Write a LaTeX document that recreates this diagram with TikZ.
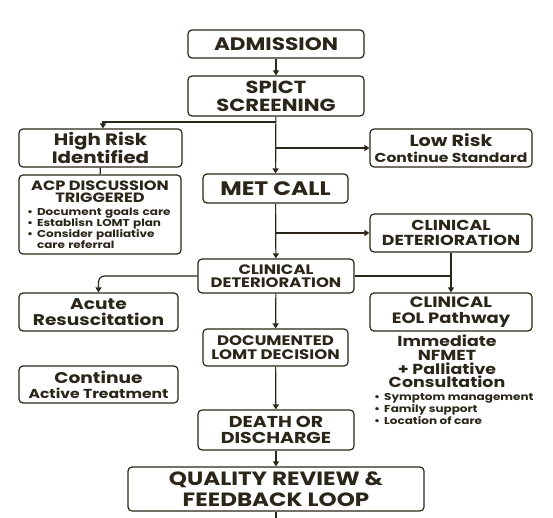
\documentclass[tikz,border=0pt]{standalone}
\usepackage{fontspec}
\setmainfont{Poppins}[BoldFeatures={FakeStretch=1.2}]
\usetikzlibrary{arrows.meta}
\definecolor{ink}{HTML}{2B2619}
\newcommand{\fs}[2]{\fontsize{#1}{#2}\selectfont}
\newcommand{\bul}{\textbullet\hspace{4pt}}

\begin{document}
\begin{tikzpicture}[x=1pt,y=-1pt,
    box/.style={draw=ink,line width=1.2pt,rounded corners=4pt,fill=white,
                text=ink,align=center,inner sep=0pt,font=\bfseries},
    arr/.style={draw=ink,line width=1.2pt,-{Triangle[length=5pt,width=6pt]}},
    lin/.style={draw=ink,line width=1.2pt}]
\useasboundingbox [fill=white] (0,0) rectangle (553,518);
% main column
\node [box,minimum width=176,minimum height=28,font=\bfseries\fs{18}{20}] (adm) at (276,44) {ADMISSION};
\node [box,minimum width=176,minimum height=40,font=\bfseries\fs{17.5}{18}] (spict) at (276,96) {SPICT\\SCREENING};
\node [box,minimum width=145,minimum height=29,font=\bfseries\fs{19.5}{20}] (met) at (275.5,188.5) {MET CALL};
\node [box,minimum width=156,minimum height=34,font=\bfseries\fs{13.7}{13.5}] (cdm) at (276,276) {CLINICAL\\DETERIORATION};
\node [box,minimum width=145,minimum height=37,font=\bfseries\fs{13.8}{14.5}] (doc) at (275.5,347.5) {DOCUMENTED\\LOMT DECISION};
\node [box,minimum width=156,minimum height=40,font=\bfseries\fs{15.8}{16}] (death) at (276,430) {DEATH OR\\DISCHARGE};
\node [box,minimum width=296,minimum height=44,font=\bfseries\fs{19.2}{21}] (qual) at (276,489) {QUALITY REVIEW \&\\FEEDBACK LOOP};
% left column
\node [box,minimum width=163,minimum height=38,font=\bfseries\fs{16.5}{17}] (high) at (100.5,148) {High Risk\\Identified};
\node [box,minimum width=162,minimum height=79,text width=150,align=left] (acp) at (100,214.5)
  {\centering\fs{13.5}{12.5}ACP DISCUSSION\\TRIGGERED\par\vspace{2pt}
   \raggedright\fs{10}{11}\leftskip=2pt
   \bul Document goals care\\
   \bul Establisn LOMT plan\\
   \bul Consider palliative\\
   \hspace*{10pt}care referral\par};
\node [box,minimum width=159,minimum height=38,font=\bfseries\fs{15.5}{16}] (acute) at (98.5,312) {Acute\\Resuscitation};
\node [box,minimum width=159,minimum height=37,font=\bfseries\fs{15.5}{15}] (cont) at (98.5,384.5) {Continue\\\fs{13}{15}Active Treatment};
% right column
\node [box,minimum width=162,minimum height=38,font=\bfseries\fs{16}{16}] (low) at (451,148) {Low Risk\\\fs{13}{13}Continue Standard};
\node [box,minimum width=162,minimum height=38,font=\bfseries\fs{14.5}{15}] (cdr) at (451,233) {CLINICAL\\DETERIORATION};
\node [box,minimum width=162,minimum height=38,font=\bfseries\fs{15}{16}] (eol) at (451,312) {CLINICAL\\EOL Pathway};
\node [text=ink,align=center,inner sep=0pt,font=\bfseries\fs{14.5}{13.8}] (nfmet) at (447,361.5)
  {Immediate\\NFMET\\+ Palliative\\Consultation};
\node [text=ink,align=left,inner sep=0pt,font=\bfseries\fs{10}{12},anchor=north west] (care) at (374,393)
  {\bul Symptom management\\ \bul Family support\\ \bul Location of care};
% connectors
\coordinate (split) at (276,122);
\coordinate (tail) at (276,518);
\draw [arr] (adm) -- (spict);
\draw [arr] (spict) -- (met);
\draw [arr] (split) -| ([xshift=2.5]high.north);
\draw [arr] (spict.south |- low.west) -- (low.west);
\draw [lin] (high) -- (acp);
\draw [arr] (met) -- (cdm);
\draw [arr] (met.south |- cdr.west) -- (cdr.west);
\draw [arr] (cdr) -- (eol);
\draw [lin] (cdm.east) -- (cdr.south |- cdm.east);
\draw [arr,rounded corners=6] (cdm.west) -| (acute.north);
\draw [arr] (cdm) -- (doc);
\draw [arr] (doc) -- (death);
\draw [arr] (death) -- (qual);
\draw [lin] (qual) -- (tail);
\end{tikzpicture}
\end{document}
